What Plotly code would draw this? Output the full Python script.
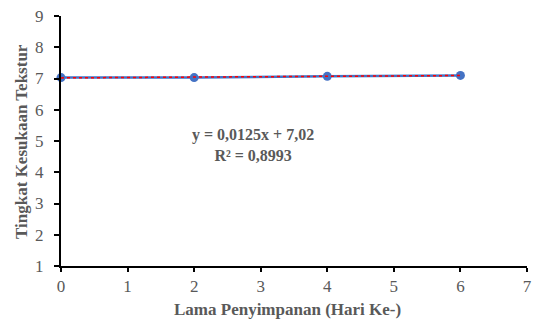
import plotly.graph_objects as go

days = [0, 2, 4, 6]
texture_score = [7.03, 7.03, 7.07, 7.10]
trend_slope = 0.0125
trend_intercept = 7.02
trend_x = [0, 6]
x_ticks = [0, 1, 2, 3, 4, 5, 6, 7]
y_ticks = [1, 2, 3, 4, 5, 6, 7, 8, 9]
equation_text = "y = 0,0125x + 7,02<br>R² = 0,8993"
x_title = "Lama Penyimpanan (Hari Ke-)"
y_title = "Tingkat Kesukaan Tekstur"

trend_y = [trend_slope * x + trend_intercept for x in trend_x]

FONT = "Liberation Serif"
GREY = "#595959"

fig = go.Figure()
fig.add_trace(go.Scatter(
    x=days, y=texture_score, mode="lines+markers",
    line=dict(color="#4472C4", width=2.5),
    marker=dict(color="#4472C4", size=9),
    cliponaxis=False, showlegend=False))
fig.add_trace(go.Scatter(
    x=trend_x, y=trend_y, mode="lines",
    line=dict(color="#FF0000", width=1.5, dash="dot"),
    cliponaxis=False, showlegend=False))

fig.add_annotation(
    x=2.89, y=4.86, xref="x", yref="y", text="<b>" + equation_text + "</b>",
    showarrow=False, font=dict(family=FONT, size=16, color=GREY), align="center")

fig.add_annotation(
    x=0.485, y=-0.172, xref="paper", yref="paper", xanchor="center", yanchor="middle",
    text="<b>" + x_title + "</b>", showarrow=False,
    font=dict(family=FONT, size=17, color=GREY))
fig.add_annotation(
    x=-0.086, y=0.5, xref="paper", yref="paper", xanchor="center", yanchor="middle",
    text="<b>" + y_title + "</b>", showarrow=False, textangle=-90,
    font=dict(family=FONT, size=17, color=GREY))

fig.update_layout(
    width=534, height=321,
    margin=dict(l=61, r=7, t=16, b=55),
    paper_bgcolor="white", plot_bgcolor="white",
    font=dict(family=FONT, color=GREY, size=16),
)
fig.update_xaxes(
    range=[0, 7], tickvals=x_ticks, showgrid=False, zeroline=False,
    showline=True, linecolor="black", linewidth=2, automargin=False,
    ticks="outside", tickcolor="black", tickwidth=2, ticklen=4,
    tickfont=dict(family=FONT, size=17, color=GREY))
fig.update_yaxes(
    range=[1, 9], tickvals=y_ticks, showgrid=False, zeroline=False,
    showline=True, linecolor="black", linewidth=2, automargin=False,
    ticks="outside", tickcolor="black", tickwidth=2, ticklen=5,
    ticklabelstandoff=7,
    tickfont=dict(family=FONT, size=17, color=GREY))

fig.write_html("out.html", config={"displayModeBar": False},
               post_script="document.body.style.margin='0';")
